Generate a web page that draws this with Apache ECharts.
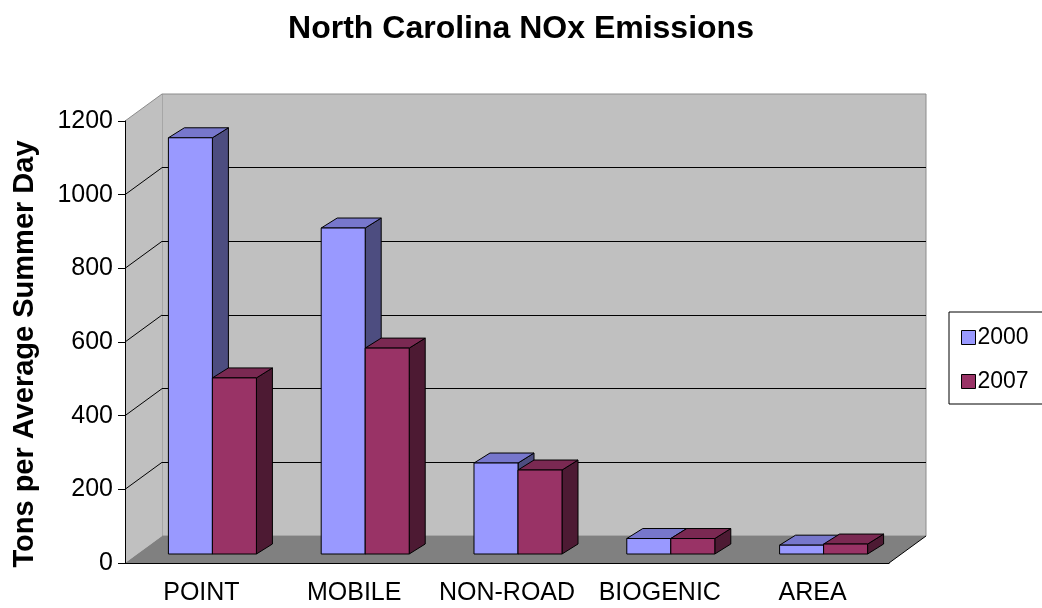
<!DOCTYPE html>
<html>
<head>
<meta charset="utf-8">
<script src="https://cdn.jsdelivr.net/npm/echarts@6/dist/echarts.min.js"></script>
<style>
  html, body { margin: 0; padding: 0; background: #ffffff; }
  #chart { width: 1042px; height: 608px; }
</style>
</head>
<body>
<div id="chart"></div>
<script>
// ---- data ----
const categories = ['POINT', 'MOBILE', 'NON-ROAD', 'BIOGENIC', 'AREA'];
const seriesNames = ['2000', '2007'];
const values2000 = [1130, 885, 247, 42, 24];
const values2007 = [478, 559, 228, 42, 27];
const yMin = 0, yMax = 1200, yStep = 200;

// ---- layout / style ----
const FONT = 'Arial, "Liberation Sans", sans-serif';
const PLOT = { left: 125, top: 121, width: 764, height: 442 };   // front plane
const DEPTH = { dx: 37, dy: -27 };        // front plane -> back wall
const BAR_PLANE = { dx: 11, dy: -9 };     // front plane -> bar front faces
const BAR_DEPTH = { dx: 16, dy: -10 };    // thickness of each box
const BAR_FRACTION = 0.288;               // bar width / category width
const palette = {
  '2000': { front: '#9999ff', top: '#7777cc', side: '#4d4d80' },
  '2007': { front: '#993366', top: '#7a2952', side: '#4d1a33' }
};

function toPairs(vals) { return vals.map((v, i) => [i, v]); }

function boxRenderer(slot, colors) {
  return function (params, api) {
    const i = api.value(0), v = api.value(1);
    const top = api.coord([i, v]);
    const base = api.coord([i, 0]);
    const bw = api.size([1, 0])[0] * BAR_FRACTION;
    const x0 = slot === 0 ? top[0] - bw : top[0];
    const x1 = x0 + bw;
    const yT = top[1], yB = base[1];
    const dx = BAR_DEPTH.dx, dy = BAR_DEPTH.dy;
    const edge = { stroke: '#000', lineWidth: 1, lineJoin: 'miter' };
    return {
      type: 'group',
      children: [
        { type: 'polygon', shape: { points: [[x1, yB], [x1 + dx, yB + dy], [x1 + dx, yT + dy], [x1, yT]] },
          style: Object.assign({ fill: colors.side }, edge) },
        { type: 'polygon', shape: { points: [[x0, yT], [x0 + dx, yT + dy], [x1 + dx, yT + dy], [x1, yT]] },
          style: Object.assign({ fill: colors.top }, edge) },
        { type: 'rect', shape: { x: x0, y: yT, width: bw, height: yB - yT },
          style: Object.assign({ fill: colors.front }, edge) }
      ]
    };
  };
}

const valueAxisBase = { type: 'value', min: yMin, max: yMax, interval: yStep };

const chart = echarts.init(document.getElementById('chart'), null, { renderer: 'canvas' });

chart.setOption({
  backgroundColor: '#ffffff',
  animation: false,
  title: {
    text: 'North Carolina NOx Emissions',
    left: 516, top: 8, textAlign: 'center',
    textStyle: { fontFamily: FONT, fontSize: 32, fontWeight: 'bold', color: '#000' }
  },
  legend: {
    orient: 'vertical',
    left: 949, top: 312,
    padding: [14, 16, 11, 12],
    itemWidth: 14, itemHeight: 14, itemGap: 21,
    backgroundColor: '#ffffff',
    borderColor: '#000', borderWidth: 1,
    icon: 'rect',
    itemStyle: { borderColor: '#000', borderWidth: 1 },
    textStyle: { fontFamily: FONT, fontSize: 23, color: '#000', padding: [0, 0, 0, -3] },
    data: seriesNames
  },
  grid: [
    { left: PLOT.left, top: PLOT.top, width: PLOT.width, height: PLOT.height },
    { left: PLOT.left + DEPTH.dx, top: PLOT.top + DEPTH.dy, width: PLOT.width, height: PLOT.height,
      show: true, backgroundColor: '#c0c0c0', borderColor: '#8c8c8c', borderWidth: 1 },
    { left: PLOT.left + BAR_PLANE.dx, top: PLOT.top + BAR_PLANE.dy, width: PLOT.width, height: PLOT.height }
  ],
  xAxis: [
    { type: 'category', gridIndex: 0, data: categories, z: 10,
      axisLine: { lineStyle: { color: '#000', width: 1 } },
      axisTick: { length: 6, lineStyle: { color: '#000' } },
      axisLabel: { fontFamily: FONT, fontSize: 25, color: '#000', margin: 18, interval: 0 } },
    { type: 'category', gridIndex: 1, data: categories, show: false },
    { type: 'category', gridIndex: 2, data: categories, show: false }
  ],
  yAxis: [
    Object.assign({}, valueAxisBase, {
      gridIndex: 0, z: 10,
      name: 'Tons per Average Summer Day',
      nameLocation: 'middle', nameGap: 86,
      nameTextStyle: { fontFamily: FONT, fontSize: 29, fontWeight: 'bold', color: '#000', padding: [0, 24, 0, 0] },
      axisLine: { show: true, lineStyle: { color: '#000', width: 1 } },
      axisTick: { show: true, length: 7, lineStyle: { color: '#000' } },
      axisLabel: { fontFamily: FONT, fontSize: 25, color: '#000', margin: 12, formatter: v => String(v) },
      splitLine: { show: false }
    }),
    Object.assign({}, valueAxisBase, {
      gridIndex: 1,
      axisLine: { show: false }, axisTick: { show: false }, axisLabel: { show: false },
      splitLine: { show: true, showMinLine: false, showMaxLine: false, lineStyle: { color: '#000', width: 1 } }
    }),
    Object.assign({}, valueAxisBase, { gridIndex: 2, show: false, splitLine: { show: false } })
  ],
  series: [
    { name: '2000', type: 'custom', xAxisIndex: 2, yAxisIndex: 2, z: 5,
      itemStyle: { color: palette['2000'].front },
      renderItem: boxRenderer(0, palette['2000']), data: toPairs(values2000) },
    { name: '2007', type: 'custom', xAxisIndex: 2, yAxisIndex: 2, z: 6,
      itemStyle: { color: palette['2007'].front },
      renderItem: boxRenderer(1, palette['2007']), data: toPairs(values2007) }
  ]
});

// Side wall, floor and the tick lines running across the side wall.
(function drawWalls() {
  const L = PLOT.left, R = PLOT.left + PLOT.width;
  const B = chart.convertToPixel({ yAxisIndex: 0 }, yMin);
  const T = chart.convertToPixel({ yAxisIndex: 0 }, yMax);
  const dx = DEPTH.dx, dy = DEPTH.dy;
  const els = [
    { type: 'polygon', z: 1, silent: true,
      shape: { points: [[L, T], [L + dx, T + dy], [L + dx, B + dy], [L, B]] },
      style: { fill: '#c0c0c0' } },
    { type: 'line', z: 1, silent: true,
      shape: { x1: L, y1: T, x2: L + dx, y2: T + dy }, style: { stroke: '#8c8c8c', lineWidth: 1 } },
    { type: 'polygon', z: 1, silent: true,
      shape: { points: [[L, B], [R, B], [R + dx, B + dy], [L + dx, B + dy]] },
      style: { fill: '#808080' } },
    { type: 'line', z: 1, silent: true,
      shape: { x1: R, y1: B, x2: R + dx, y2: B + dy }, style: { stroke: '#000', lineWidth: 1 } }
  ];
  for (let v = yMin + yStep; v < yMax; v += yStep) {
    const y = chart.convertToPixel({ yAxisIndex: 0 }, v);
    els.push({ type: 'line', z: 1, silent: true,
      shape: { x1: L, y1: y, x2: L + dx, y2: y + dy }, style: { stroke: '#000', lineWidth: 1 } });
  }
  chart.setOption({ graphic: { elements: els } });
})();
</script>
</body>
</html>
